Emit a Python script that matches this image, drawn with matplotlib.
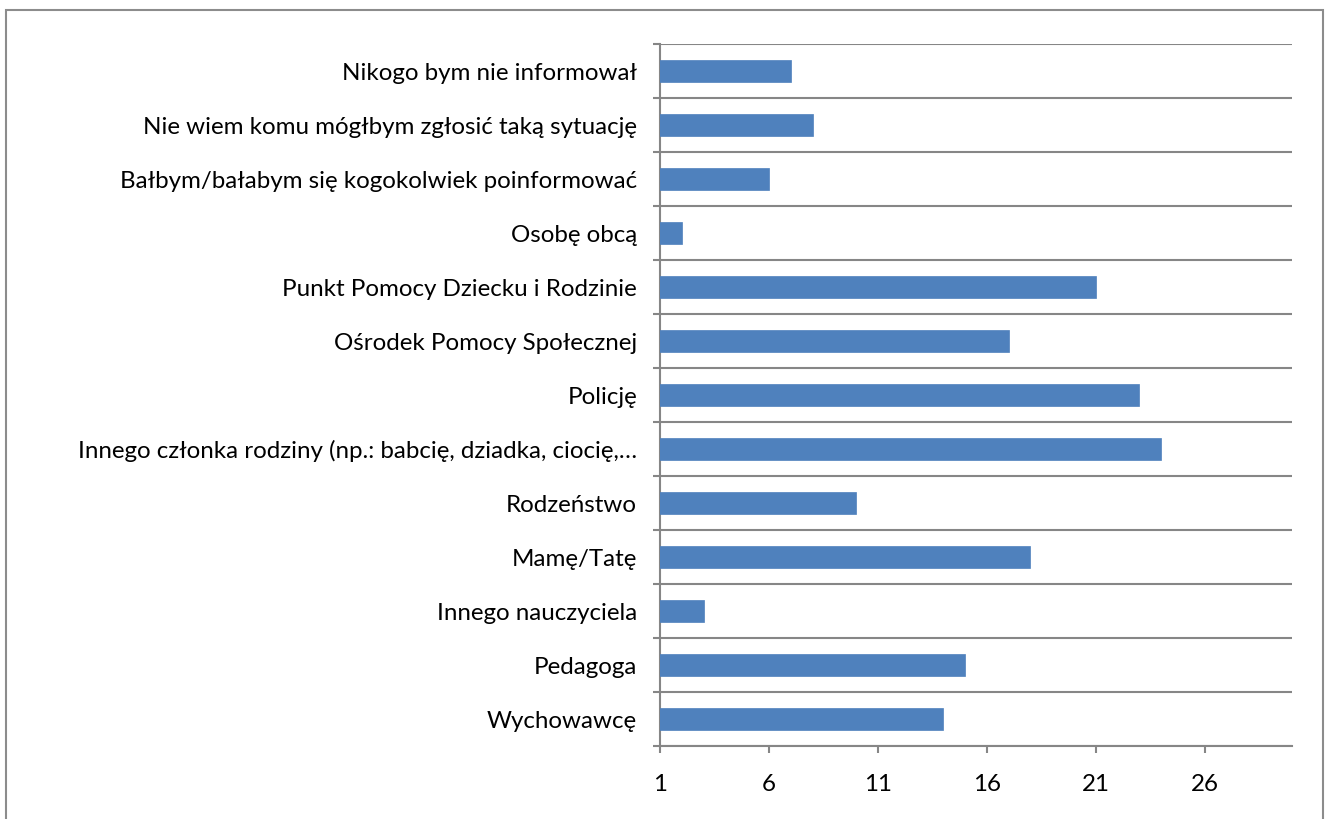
import matplotlib
matplotlib.use("Agg")
import matplotlib.pyplot as plt
from matplotlib.patches import Rectangle

categories = [
    "Wychowawcę",
    "Pedagoga",
    "Innego nauczyciela",
    "Mamę/Tatę",
    "Rodzeństwo",
    "Innego członka rodziny (np.: babcię, dziadka, ciocię,…",
    "Policję",
    "Ośrodek Pomocy Społecznej",
    "Punkt Pomocy Dziecku i Rodzinie",
    "Osobę obcą",
    "Bałbym/bałabym się kogokolwiek poinformować",
    "Nie wiem komu mógłbym zgłosić taką sytuację",
    "Nikogo bym nie informował",
]
values = [14, 15, 3, 18, 10, 24, 23, 17, 21, 2, 6, 8, 7]
xticks = [1, 6, 11, 16, 21, 26]

plt.rcParams['font.family'] = ['Lato', 'DejaVu Sans']

W, H = 1330, 819
fig = plt.figure(figsize=(W / 100, H / 100), dpi=100)
fig.patch.set_facecolor('white')

ax = fig.add_axes([660 / W, 1 - 746 / H, (1292 - 660) / W, (746 - 44) / H])
grid_c = '#868686'
n = len(categories)
ypos = list(range(n))
ax.barh(ypos, values, height=0.4, color='#4F81BD', edgecolor='#4F81BD', linewidth=0.5, zorder=3)
ax.set_xlim(1, 30)
ax.set_ylim(-0.5, n - 0.5)
ax.set_xticks(xticks)
ax.set_xticklabels([str(t) for t in xticks])
ax.set_yticks(ypos)
ax.set_yticklabels(categories)
ax.set_yticks([i - 0.5 for i in range(n + 1)], minor=True)
ax.grid(True, which='minor', axis='y', color=grid_c, linewidth=1.5, zorder=1)
ax.tick_params(axis='y', which='major', length=0, pad=16.5, labelsize=17.4, labelcolor='black')
ax.tick_params(axis='y', which='minor', length=5, width=1.5, color=grid_c, direction='out')
ax.tick_params(axis='x', which='major', length=5, width=1.5, color=grid_c, direction='out', pad=15, labelsize=17.4)
for s in ['top', 'right']:
    ax.spines[s].set_visible(False)
for s in ['left', 'bottom']:
    ax.spines[s].set_color(grid_c)
    ax.spines[s].set_linewidth(1.5)

fig.patches.append(Rectangle((6 / W, -0.01), (1323 - 6) / W, 1.01 - 10 / H,
                             transform=fig.transFigure, fill=False,
                             edgecolor='#8c8c8c', linewidth=1.5))

fig.savefig('out.png', dpi=100)
